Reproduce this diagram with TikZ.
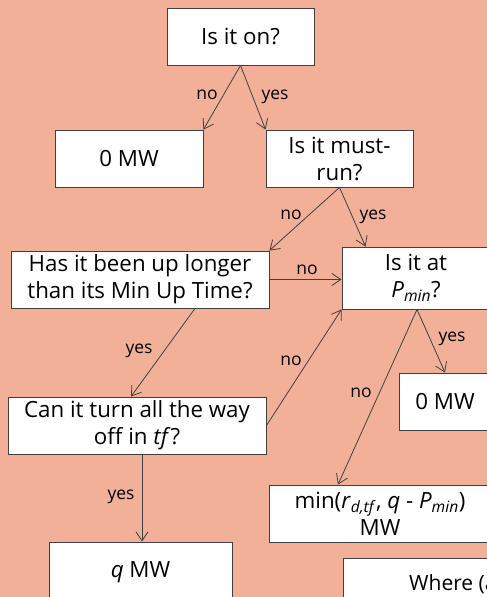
\documentclass[tikz,border=0pt]{standalone}
\usepackage{fontspec}
\setmainfont{Open Sans}
\usetikzlibrary{arrows.meta}
\definecolor{bgsalmon}{HTML}{F3B098}
\definecolor{edgegray}{HTML}{404040}
\tikzset{
  box/.style={draw=edgegray, line width=0.9pt, fill=white, align=center,
    font=\fontsize{22.3}{27}\selectfont, inner sep=0pt},
  conn/.style={draw=edgegray, line width=0.8pt, -{Straight Barb[length=9pt,width=12pt]}},
  lbl/.style={anchor=base, font=\fontsize{17.5}{20}\selectfont, inner sep=0pt},
}
\begin{document}
\begin{tikzpicture}[x=1pt,y=-1pt]
\useasboundingbox (0,0) rectangle (487,597);
\fill[bgsalmon] (0,0) rectangle (487,597);
\clip (0,0) rectangle (487,597);
% boxes
\node[box, minimum width=147, minimum height=57] (b1) at (240.5,36.5) {Is it on?};
\node[box, minimum width=148, minimum height=57] (b2) at (129,158.5) {0 MW};
\node[box, minimum width=147, minimum height=57] (b3) at (339.5,158.5) {Is it must-\\run?};
\node[box, minimum width=258, minimum height=57] (b4) at (140,279.5) {Has it been up longer\\than its Min Up Time?};
\node[box, minimum width=148, minimum height=62] (b5) at (416,278) {Is it at\\\textit{P}\textsubscript{\textit{min}}?};
\node[box, minimum width=258, minimum height=57] (b6) at (137,425.5) {Can it turn all the way\\off in \textit{tf}?};
\node[box, minimum width=92, minimum height=57] (b7) at (445,401.5) {0 MW};
\node[box, minimum width=222, minimum height=57] (b8) at (380,513.5) {min(\textit{r}\textsubscript{\textit{d,tf}}, \textit{q} - \textit{P}\textsubscript{\textit{min}})\\MW};
\node[box, minimum width=183, minimum height=60] (b9) at (140.5,572) {\textit{q} MW};
\node[box, minimum width=280, minimum height=70, anchor=north west] (b10) at (343,558) {};
\node[anchor=base west, font=\fontsize{21}{27}\selectfont, inner sep=0pt] (b10t) at (409,590) {Where (a};
% connectors
\draw[conn] (b1.south) -- (b2.north east);
\draw[conn] (b1.south) -- (b3.north west);
\draw[conn] (b3.south) -- (b4.north east);
\draw[conn] (b3.south) -- ([xshift=24pt]b5.north west);
\draw[conn] (b4.east) -- (b4.east -| b5.west);
\draw[conn] ([xshift=55pt]b4.south) -- ([xshift=-6pt]b6.north);
\draw[conn] (b6.east) -- (b5.south west);
\draw[conn] ([xshift=1pt]b5.south) -- (b7.north);
\draw[conn] ([xshift=1pt]b5.south) -- ([xshift=-42pt]b8.north);
\draw[conn] ([xshift=5pt]b6.south) -- ([xshift=1.5pt]b9.north);
% labels
\node[lbl] (l1) at (207,99) {no};
\node[lbl] (l2) at (275,99) {yes};
\node[lbl] (l3) at (291,219) {no};
\node[lbl] (l4) at (373,219) {yes};
\node[lbl] (l5) at (307,274) {no};
\node[lbl] (l6) at (139,353) {yes};
\node[lbl] (l7) at (291,365) {no};
\node[lbl] (l8) at (452,341) {yes};
\node[lbl] (l9) at (361,397) {no};
\node[lbl] (l10) at (121,499) {yes};
\end{tikzpicture}
\end{document}
